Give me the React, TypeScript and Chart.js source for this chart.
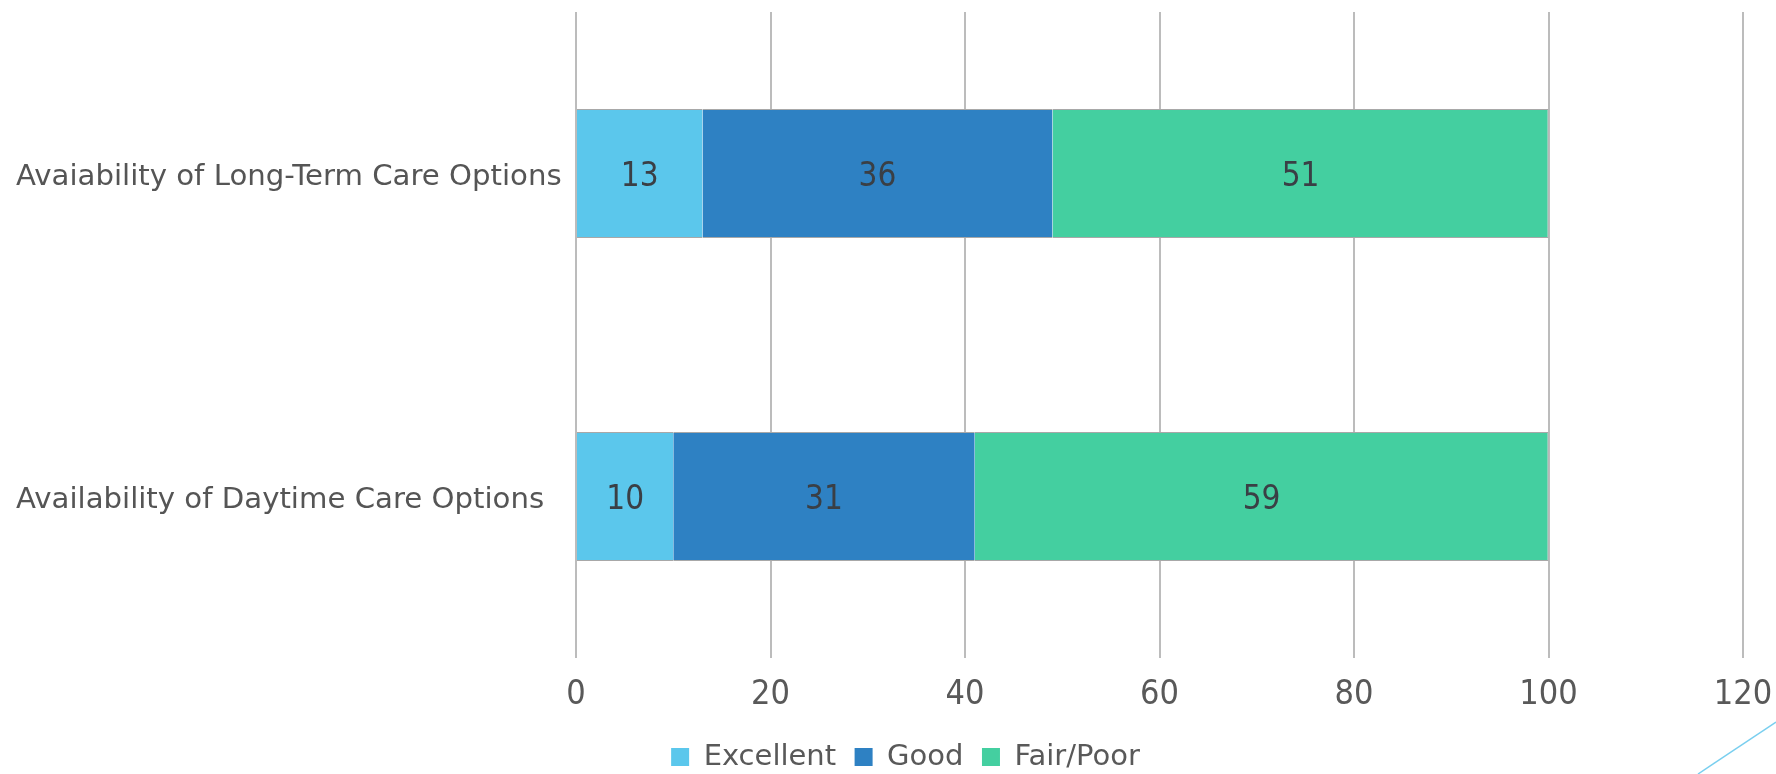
import React, { useEffect, useRef } from "react";
import { Chart, registerables } from "chart.js";

Chart.register(...registerables);

const categories = [
  "Avaiability of Long-Term Care Options",
  "Availability of Daytime Care Options",
];
const seriesNames = ["Excellent", "Good", "Fair/Poor"];
const excellent = [13, 10];
const good = [36, 31];
const fairPoor = [51, 59];
const xMin = 0;
const xMax = 120;
const xStep = 20;
const colors = ["#5BC7EC", "#2E81C3", "#44CFA0"];

const TEXT_FONT = '"DejaVu Sans", sans-serif';
const NUM_FONT = '"Liberation Sans Narrow", "DejaVu Sans Condensed", sans-serif';

const valueLabels = {
  id: "valueLabels",
  afterDatasetsDraw(chart: any) {
    const ctx = chart.ctx;
    ctx.save();
    ctx.font = `33px ${NUM_FONT}`;
    ctx.fillStyle = "#3A3F45";
    ctx.textAlign = "center";
    ctx.textBaseline = "middle";
    chart.data.datasets.forEach((ds: any, i: number) => {
      const meta = chart.getDatasetMeta(i);
      meta.data.forEach((el: any, j: number) => {
        const p = el.getProps(["x", "y", "base"], true);
        ctx.fillText(String(ds.data[j]), (p.x + p.base) / 2, p.y + 4);
      });
    });
    ctx.restore();
  },
};

const legendShift = {
  id: "legendShift",
  afterLayout(chart: any) {
    const lg = chart.legend;
    if (lg) {
      lg.left += 26;
      lg.right += 26;
    }
  },
};

export default function App() {
  const ref = useRef<HTMLCanvasElement | null>(null);

  useEffect(() => {
    document.documentElement.style.overflow = "hidden";
    const canvas = ref.current;
    if (!canvas) return;
    const series = [excellent, good, fairPoor];
    const chart = new Chart(canvas, {
      type: "bar",
      data: {
        labels: categories,
        datasets: series.map((data, i) => ({
          label: seriesNames[i],
          data,
          backgroundColor: colors[i],
          borderColor: "#A8A8A8",
          borderWidth: { top: 1, bottom: 1, left: 0, right: i === 2 ? 1 : 0 },
          borderSkipped: false,
          categoryPercentage: 0.5,
          barPercentage: 0.8,
        })),
      },
      options: {
        indexAxis: "y",
        responsive: false,
        animation: false,
        layout: { padding: { left: 16, right: 33, top: 12, bottom: -7.5 } },
        scales: {
          x: {
            stacked: true,
            min: xMin,
            max: xMax,
            ticks: {
              stepSize: xStep,
              padding: 17,
              color: "#595959",
              font: { family: NUM_FONT, size: 34 },
            },
            grid: { color: "#BCBCBC", lineWidth: 2, drawTicks: false },
            border: { display: false },
            afterFit: (scale: any) => {
              scale.height = 66;
              scale.paddingLeft = 0;
              scale.paddingRight = 0;
            },
          },
          y: {
            stacked: true,
            ticks: {
              crossAlign: "far",
              labelOffset: 4,
              color: "#555555",
              font: { family: TEXT_FONT, size: 29.2 },
            },
            grid: { display: false },
            border: { display: false },
            afterFit: (scale: any) => {
              scale.width = 560;
              scale.paddingTop = 0;
              scale.paddingBottom = 0;
            },
          },
        },
        plugins: {
          tooltip: { enabled: false },
          legend: {
            position: "bottom",
            labels: {
              boxWidth: 18,
              boxHeight: 18,
              padding: 18.5,
              color: "#595959",
              font: { family: TEXT_FONT, size: 29 },
              generateLabels: (c: any) =>
                c.data.datasets.map((ds: any, i: number) => ({
                  text: ds.label,
                  fillStyle: colors[i],
                  strokeStyle: colors[i],
                  lineWidth: 0,
                  hidden: false,
                  datasetIndex: i,
                  fontColor: "#595959",
                })),
            },
          },
        },
      },
      plugins: [valueLabels, legendShift],
    });
    return () => chart.destroy();
  }, []);

  return (
    <div style={{ position: "absolute", left: 0, top: 0, width: 1776, height: 774, background: "#ffffff" }}>
      <canvas ref={ref} width={1776} height={774} style={{ display: "block" }} />
      <svg
        width={1776}
        height={774}
        style={{ position: "absolute", left: 0, top: 0, pointerEvents: "none" }}
      >
        <line x1={1698} y1={774} x2={1776} y2={722} stroke="#7ACFEF" strokeWidth={1.5} />
      </svg>
    </div>
  );
}
